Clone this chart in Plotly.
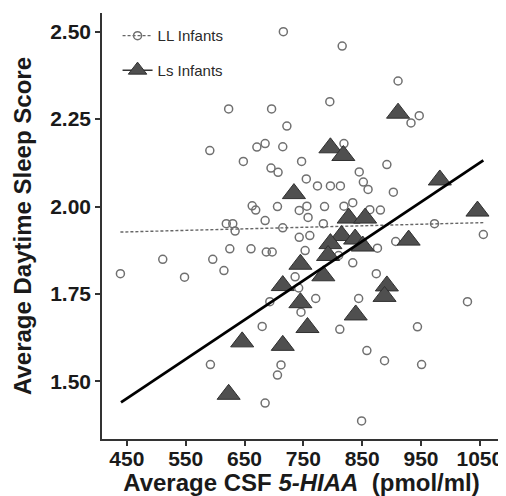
import plotly.graph_objects as go

# LL infants (open circles)
ll_x = [716, 816, 911, 795, 623, 696, 947, 933, 722, 591, 671, 685, 715, 819, 648, 695, 707, 747, 845, 852,
        860, 892, 755, 774, 796, 813, 903, 663, 669, 706, 743, 756, 758, 786, 819, 834, 863, 881, 685, 784,
        715, 973, 1056, 743, 761, 907, 876, 661, 687, 697, 753, 810, 834, 736, 742, 693, 746, 771, 844, 680,
        812, 858, 712, 706, 888, 951, 944, 874, 1029, 685, 849, 619, 630, 634, 625, 511, 596, 439, 548, 615, 592]
ll_y = [2.500, 2.459, 2.359, 2.300, 2.279, 2.279, 2.260, 2.239, 2.230, 2.160, 2.170, 2.180, 2.171, 2.180, 2.129,
        2.110, 2.098, 2.129, 2.099, 2.070, 2.049, 2.120, 2.079, 2.059, 2.059, 2.059, 2.041, 2.002, 1.990, 2.000,
        1.989, 2.001, 1.969, 2.000, 2.001, 2.011, 1.991, 1.990, 1.960, 1.951, 1.939, 1.951, 1.920, 1.912, 1.917,
        1.900, 1.881, 1.879, 1.870, 1.870, 1.874, 1.860, 1.839, 1.799, 1.767, 1.728, 1.698, 1.737, 1.737, 1.657,
        1.649, 1.588, 1.547, 1.518, 1.559, 1.548, 1.656, 1.808, 1.728, 1.438, 1.387, 1.951, 1.951, 1.930, 1.879,
        1.849, 1.849, 1.808, 1.798, 1.817, 1.548]

# Ls infants (filled triangles)
ls_x = [911, 796, 818, 982, 734, 827, 855, 1046, 815, 838, 929, 796, 851, 792, 745, 784, 715, 892, 888, 745,
        839, 757, 646, 715, 623]
ls_y = [2.267, 2.168, 2.146, 2.076, 2.037, 1.967, 1.967, 1.987, 1.917, 1.907, 1.904, 1.894, 1.887, 1.860, 1.835,
        1.802, 1.774, 1.773, 1.743, 1.725, 1.690, 1.654, 1.613, 1.603, 1.463]

# fit lines (end points)
ll_fit_x = [439, 1056]
ll_fit_y = [1.927, 1.954]
ls_fit_x = [440, 1056]
ls_fit_y = [1.440, 2.132]

x_ticks = [450, 550, 650, 750, 850, 950, 1050]
y_ticks = [1.50, 1.75, 2.00, 2.25, 2.50]

assert len(ll_x) == len(ll_y) and len(ls_x) == len(ls_y)

FONT = "Liberation Sans, Arial, sans-serif"
circ_col = "#707070"
tri_fill = "#4f4f4f"
tri_line = "#303030"
dash_col = "#666666"
axis_col = "#333333"

fig = go.Figure()
fig.add_trace(go.Scatter(x=ll_x, y=ll_y, mode="markers", showlegend=False,
                         marker=dict(symbol="circle-open", size=8, color=circ_col, line=dict(width=1.5, color=circ_col))))
fig.add_trace(go.Scatter(x=ll_fit_x, y=ll_fit_y, mode="lines", showlegend=False,
                         line=dict(color=dash_col, width=1.4, dash="3px,2px")))
fig.add_trace(go.Scatter(x=ls_x, y=ls_y, mode="markers", showlegend=False,
                         marker=dict(symbol="triangle-up", size=20, color=tri_fill, line=dict(width=1, color=tri_line))))
fig.add_trace(go.Scatter(x=ls_fit_x, y=ls_fit_y, mode="lines", showlegend=False,
                         line=dict(color="black", width=2.8)))

# legend entries
fig.add_trace(go.Scatter(x=[None], y=[None], mode="lines+markers", name="LL Infants", legendgroup="a",
                         line=dict(color=dash_col, width=1.4, dash="3px,2px"),
                         marker=dict(symbol="circle-open", size=8, color=circ_col, line=dict(width=1.5, color=circ_col))))
fig.add_trace(go.Scatter(x=[None], y=[None], mode="lines+markers", name="Ls Infants", legendgroup="b",
                         line=dict(color=axis_col, width=1.5),
                         marker=dict(symbol="triangle-up", size=16, color=tri_fill, line=dict(width=1, color=tri_line))))

# page body keeps an 8px margin, so the figure is 8px smaller on each axis
fig.update_layout(
    width=498, height=488,
    margin=dict(l=94, r=3, t=5, b=56),
    plot_bgcolor="white", paper_bgcolor="white",
    font=dict(family=FONT, color="#1a1a1a"),
    showlegend=True,
    legend=dict(x=0.039, y=0.985, xanchor="left", yanchor="top", bgcolor="rgba(0,0,0,0)",
                font=dict(size=15, color="#2a2a2a", family=FONT), traceorder="grouped", tracegroupgap=12,
                itemwidth=30),
    xaxis=dict(range=[407.7, 1086], tickvals=x_ticks, ticktext=[str(v) for v in x_ticks],
               showgrid=False, zeroline=False, showline=True, linecolor=axis_col, linewidth=1.5,
               ticks="",
               minor=dict(tickvals=x_ticks, ticks="outside", ticklen=5, tickwidth=1.5, tickcolor=axis_col,
                          showgrid=False),
               tickfont=dict(size=21, weight="bold", color="#1a1a1a", family=FONT),
               title=dict(text="Average CSF <i>5-HIAA</i>\u00a0\u00a0(pmol/ml)", standoff=6,
                          font=dict(size=24, weight="bold", color="#1a1a1a", family=FONT))),
    yaxis=dict(range=[1.3352, 2.5535], tickvals=y_ticks, ticktext=["%.2f" % v for v in y_ticks],
               showgrid=False, zeroline=False, showline=True, linecolor=axis_col, linewidth=1.5,
               ticks="outside", ticklen=5, tickwidth=1.5, tickcolor=axis_col,
               tickfont=dict(size=21, weight="bold", color="#1a1a1a", family=FONT),
               title=dict(text="Average Daytime Sleep Score", standoff=12,
                          font=dict(size=24, weight="bold", color="#1a1a1a", family=FONT))),
)

fig.write_html("out.html")
